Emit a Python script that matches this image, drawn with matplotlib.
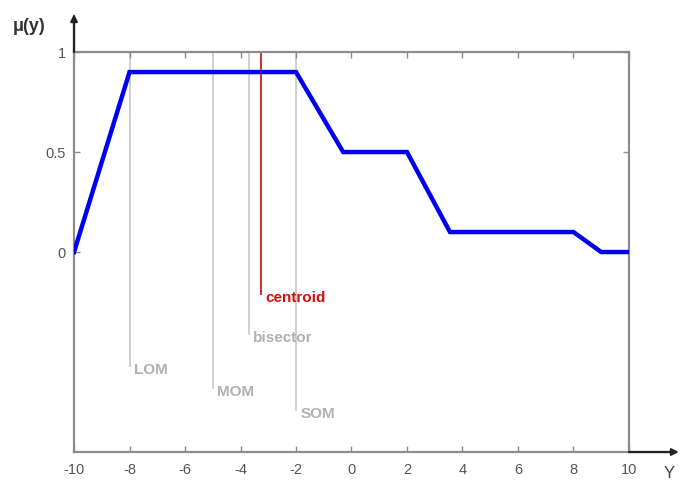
import numpy as np
import matplotlib
matplotlib.use("Agg")
import matplotlib.pyplot as plt

plt.rcParams["font.family"] = ["Liberation Sans", "DejaVu Sans"]
plt.rcParams["axes.unicode_minus"] = False

# ── Daten ─────────────────────────────────────────────
kurve_x = [-10, -8, -2, -0.3, 2, 3.55, 8, 9, 10]
kurve_y = [0, 0.9, 0.9, 0.5, 0.5, 0.1, 0.1, 0, 0]

methoden = ["LOM", "MOM", "bisector", "centroid", "SOM"]
methoden_x = [-8, -5, -3.7, -3.25, -2]
methoden_ende = [-0.57, -0.68, -0.41, -0.21, -0.79]
methoden_farbe = ["#c8c8c8", "#c8c8c8", "#c8c8c8", "#d03030", "#c8c8c8"]
text_farbe = ["#b0b0b0", "#b0b0b0", "#b0b0b0", "#d01010", "#b0b0b0"]

x_ticks = list(range(-10, 11, 2))
y_ticks = [0, 0.5, 1]
y_labels = ["0", "0.5", "1"]

grau = "#8c8c8c"

# ── Plot ──────────────────────────────────────────────
fig = plt.figure(figsize=(6.81, 4.82), dpi=100)
ax = fig.add_axes([0.1087, 0.0622, 0.8149, 0.8298])

for xm, ye, fc in zip(methoden_x, methoden_ende, methoden_farbe):
    ax.plot([xm, xm], [1, ye], color=fc, linewidth=1.2 if fc != "#d03030" else 1.4,
            zorder=1)

ax.plot(kurve_x, kurve_y, color="#0000ee", linewidth=3.2, zorder=3,
        solid_joinstyle="miter")

for name, xm, ye, tc in zip(methoden, methoden_x, methoden_ende, text_farbe):
    ax.text(xm + 0.15, ye - 0.02, name, color=tc, fontsize=11, fontweight="bold",
            ha="left", va="center")

ax.set_xlim(-10, 10)
ax.set_ylim(-1, 1)
ax.set_xticks(x_ticks)
ax.set_yticks(y_ticks)
ax.set_yticklabels(y_labels)
ax.tick_params(direction="in", length=4, width=1, color=grau,
               labelcolor="#555555", labelsize=10.5,
               top=True, right=True, bottom=True, left=True)
ax.tick_params(axis="x", pad=8)
ax.tick_params(axis="y", pad=6)
for s in ax.spines.values():
    s.set_color(grau)
    s.set_linewidth(1.6)

# Achsenpfeile
ax.annotate("", xy=(0.0, 1.095), xytext=(0.0, 1.0), xycoords="axes fraction",
            arrowprops=dict(arrowstyle="-|>", color="#222222", lw=1.6,
                            mutation_scale=10, shrinkA=0, shrinkB=0),
            annotation_clip=False)
ax.annotate("", xy=(1.09, 0.0), xytext=(1.0, 0.0), xycoords="axes fraction",
            arrowprops=dict(arrowstyle="-|>", color="#222222", lw=1.6,
                            mutation_scale=10, shrinkA=0, shrinkB=0),
            annotation_clip=False)
ax.plot([0, 0], [1, 1.09], transform=ax.transAxes, color=grau, lw=1.6,
        clip_on=False)
ax.plot([1, 1.08], [0, 0], transform=ax.transAxes, color=grau, lw=1.6,
        clip_on=False)

fig.text(0.018, 0.935, "μ(y)", fontsize=13, color="#333333", fontweight="bold")
fig.text(0.975, 0.008, "Y", fontsize=12, color="#444444")

plt.savefig("out.png", dpi=100)
